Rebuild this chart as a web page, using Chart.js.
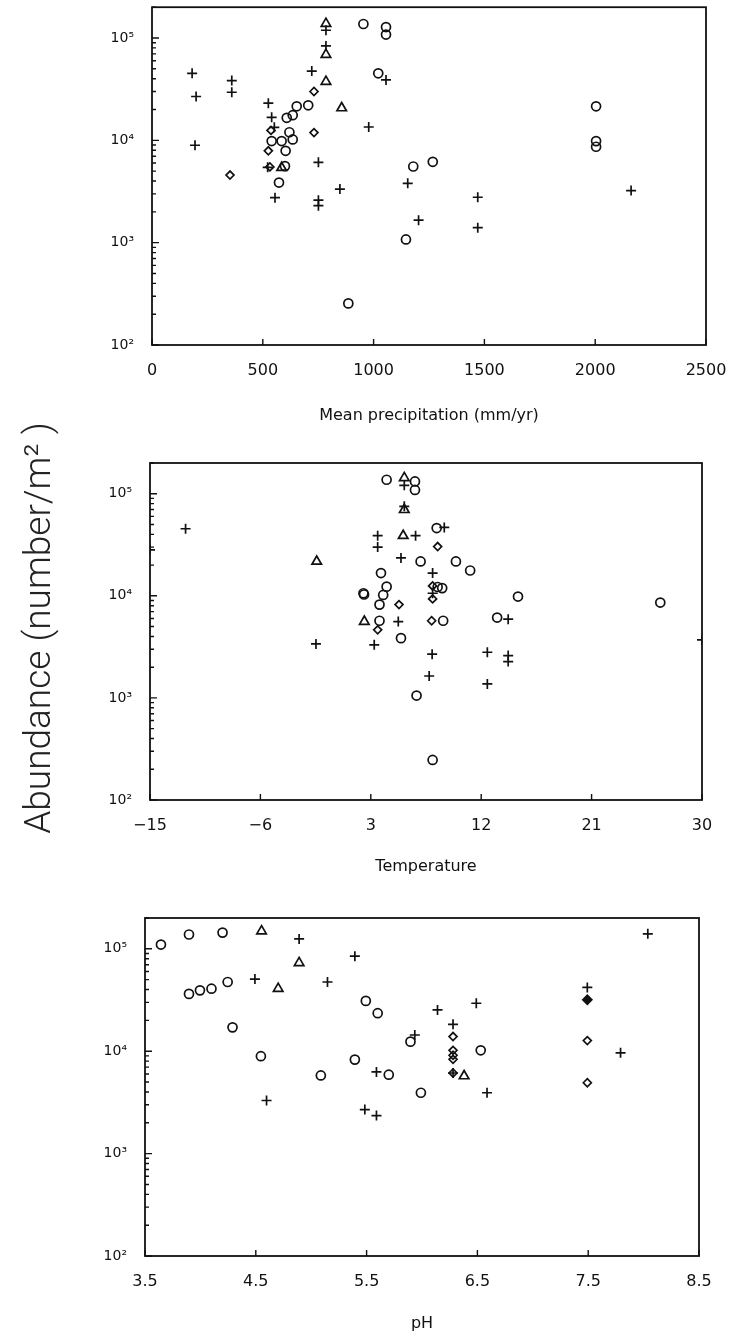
<!DOCTYPE html>
<html>
<head>
<meta charset="utf-8">
<script src="https://cdn.jsdelivr.net/npm/chart.js@4"></script>
<style>
  body { margin: 0; background: #fff; }
  #wrap { position: relative; width: 733px; height: 1339px; overflow: hidden; }
  canvas { position: absolute; left: 0; }
  #ytitle {
    position: absolute; left: -222px; top: 605px; width: 520px; height: 46px;
    line-height: 46px; text-align: center; transform: rotate(-90deg);
    font-family: Roboto, "DejaVu Sans", sans-serif; font-weight: 300; font-size: 37px; color: #222;
    white-space: nowrap;
  }
</style>
</head>
<body>
<div id="wrap">
  <canvas id="c1" width="733" height="440" style="top:0px"></canvas>
  <canvas id="c2" width="733" height="440" style="top:450px"></canvas>
  <canvas id="c3" width="733" height="439" style="top:900px"></canvas>
  <div id="ytitle">Abundance (number/m² )</div>
</div>
<script>
// abundance axis (shared by the three panels)
const abundanceTicks = [100, 1000, 10000, 100000];
const abundanceLabels = ["10²", "10³", "10⁴", "10⁵"];

// precipitation panel
const precipTicks = [0, 500, 1000, 1500, 2000, 2500];
const precipCircles = [
  [954, 137000], [1056, 128000], [1056, 108000], [1021, 45200], [705, 22000],
  [653, 21500], [635, 17600], [608, 16600], [620, 12000], [540, 9840],
  [585, 9840], [635, 10200], [603, 7900], [600, 5600], [573, 3870],
  [1146, 1076], [886, 255], [1179, 5550], [1267, 6170], [2004, 21500],
  [2004, 9830], [2004, 8660]
];
const precipCrosses = [
  [181, 45200], [199, 26800], [194, 8950], [360, 38400], [360, 29500],
  [525, 23100], [540, 16800], [552, 13400], [522, 5450], [555, 2750],
  [721, 47500], [785, 119000], [785, 83700], [751, 6100], [751, 2600],
  [751, 2300], [848, 3340], [978, 13500], [1056, 38900], [1154, 3800],
  [1203, 1660], [1470, 2780], [1470, 1400], [2162, 3230]
];
const precipDiamonds = [
  [352, 4580], [731, 30000], [731, 11900], [537, 12500], [525, 7900], [532, 5500]
];
const precipTriangles = [
  [785, 138000], [785, 68900], [785, 37500], [856, 20700], [585, 5400]
];

// temperature panel
const tempTicks = [-15, -6, 3, 12, 21, 30];
const tempCircles = [
  [4.29, 137000], [6.6, 132000], [6.6, 109000], [8.37, 46100], [7.06, 21700],
  [9.94, 21700], [11.1, 17700], [3.83, 16700], [4.29, 12300], [4.01, 10200],
  [2.4, 10600], [2.45, 10300], [3.71, 8200], [3.71, 5700], [5.46, 3850],
  [6.73, 1055], [8.45, 12200], [8.82, 11900], [8.9, 5700], [15.0, 9840],
  [13.3, 6120], [26.6, 8590], [8.04, 247]
];
const tempCrosses = [
  [-12.1, 45400], [-15, 28200], [-1.47, 3380], [3.56, 38800], [3.56, 30000],
  [3.28, 3310], [5.46, 23500], [5.24, 5600], [5.73, 121000], [5.73, 75200],
  [6.65, 38800], [8.99, 46800], [8.04, 16700], [8.04, 10600], [8.0, 2680],
  [7.76, 1640], [12.5, 2800], [12.5, 1370], [14.2, 5900], [14.2, 2600],
  [14.2, 2270], [30, 3700]
];
const tempDiamonds = [
  [5.3, 8200], [3.56, 4640], [8.45, 30400], [8.04, 12500], [8.04, 9330], [7.96, 5700]
];
const tempTriangles = [
  [5.73, 143000], [5.73, 69700], [5.64, 38800], [-1.41, 21700], [2.47, 5600]
];

// pH panel
const phTicks = [3.5, 4.5, 5.5, 6.5, 7.5, 8.5];
const phCircles = [
  [3.644, 110000], [3.897, 138000], [4.2, 144000], [3.897, 36300], [3.996, 39300],
  [4.1, 40800], [4.246, 47400], [4.29, 17100], [4.546, 8940], [5.087, 5800],
  [5.394, 8280], [5.493, 31000], [5.6, 23500], [5.7, 5900], [5.896, 12400],
  [5.99, 3930], [6.53, 10200]
];
const phCrosses = [
  [4.891, 125000], [5.394, 84700], [4.492, 50700], [5.147, 47400], [4.597, 3300],
  [5.484, 2690], [5.589, 2350], [5.589, 6270], [5.935, 14400], [6.14, 25300],
  [6.49, 29400], [6.28, 18300], [6.587, 3930], [7.492, 42000], [7.792, 9640],
  [8.038, 140000], [6.28, 6130]
];
const phDiamonds = [
  [6.28, 13900], [6.28, 10200], [6.28, 9130], [6.28, 8330], [6.28, 6130],
  [7.492, 12700], [7.492, 4920]
];
const phTriangles = [
  [4.552, 149000], [4.891, 72800], [4.702, 40800], [6.38, 5730]
];
const phFilledDiamonds = [[7.492, 31800]];

const INK = "#111";
const FONT = "'DejaVu Sans', sans-serif";

function points(list, style, radius, filled) {
  return {
    data: list.map(([x, y]) => ({ x, y })),
    pointStyle: style,
    pointRadius: radius,
    pointBorderWidth: 1.7,
    borderColor: INK,
    backgroundColor: filled ? INK : "rgba(0,0,0,0)",
    showLine: false,
  };
}

// box around the plot plus short inward tick marks
const frame = {
  id: "frame",
  afterDatasetsDraw(chart) {
    const { ctx, chartArea: a, scales: { x, y } } = chart;
    ctx.save();
    ctx.strokeStyle = INK;
    ctx.lineWidth = 1.8;
    ctx.strokeRect(a.left, a.top, a.right - a.left, a.bottom - a.top);
    ctx.lineWidth = 1.4;
    ctx.beginPath();
    x.ticks.forEach(t => {
      const px = x.getPixelForValue(t.value);
      ctx.moveTo(px, a.bottom);
      ctx.lineTo(px, a.bottom - 6);
    });
    for (let d = 2; d <= 5; d++) {
      for (let m = 1; m <= 9; m++) {
        const v = m * Math.pow(10, d);
        if (v > y.max) break;
        const py = y.getPixelForValue(v);
        ctx.moveTo(a.left, py);
        ctx.lineTo(a.left + (m === 1 ? 7 : 4), py);
      }
    }
    ctx.stroke();
    ctx.restore();
  }
};

// tick text: plain numbers, real minus sign
const fmt = v => (v < 0 ? "\u2212" + Math.abs(v) : String(v));

function panel(id, g, xTicks, title, datasets) {
  new Chart(document.getElementById(id), {
    type: "scatter",
    data: { datasets },
    options: {
      responsive: false,
      animation: false,
      events: [],
      layout: { padding: { top: g.top, right: g.right, left: 0, bottom: 0 } },
      plugins: { legend: { display: false }, tooltip: { enabled: false } },
      scales: {
        x: {
          type: "linear",
          min: xTicks[0],
          max: xTicks[xTicks.length - 1],
          grid: { display: false },
          border: { display: false },
          afterBuildTicks: s => { s.ticks = xTicks.map(v => ({ value: v })); },
          afterFit: s => { s.height = g.xh; s.paddingLeft = 0; s.paddingRight = 0; },
          ticks: {
            color: INK, font: { family: FONT, size: 16 }, padding: 8, maxRotation: 0,
            callback: v => fmt(v)
          },
          title: {
            display: true, text: title, color: INK,
            font: { family: FONT, size: 16 },
            padding: { top: 0, bottom: g.tb }
          }
        },
        y: {
          type: "logarithmic",
          min: 100,
          max: 200000,
          grid: { display: false },
          border: { display: false },
          afterBuildTicks: s => { s.ticks = abundanceTicks.map(v => ({ value: v })); },
          afterFit: s => { s.width = g.yw; s.paddingTop = 0; s.paddingBottom = 0; },
          ticks: {
            color: INK, font: { family: FONT, size: 14 }, padding: 10,
            callback: v => abundanceLabels[abundanceTicks.indexOf(v)]
          }
        }
      }
    },
    plugins: [frame]
  });
}

panel("c1", { top: 5, right: 27, yw: 152, xh: 95, tb: 15 }, precipTicks,
  "Mean precipitation (mm/yr)", [
    points(precipCircles, "circle", 4.5),
    points(precipCrosses, "cross", 5),
    points(precipDiamonds, "rectRot", 4),
    points(precipTriangles, "triangle", 5.5)
  ]);

panel("c2", { top: 13, right: 31, yw: 150, xh: 90, tb: 14 }, tempTicks,
  "Temperature", [
    points(tempCircles, "circle", 4.5),
    points(tempCrosses, "cross", 5),
    points(tempDiamonds, "rectRot", 4),
    points(tempTriangles, "triangle", 5.5)
  ]);

panel("c3", { top: 18, right: 34, yw: 145, xh: 83, tb: 6 }, phTicks,
  "pH", [
    points(phCircles, "circle", 4.5),
    points(phCrosses, "cross", 5),
    points(phDiamonds, "rectRot", 4),
    points(phTriangles, "triangle", 5.5),
    points(phFilledDiamonds, "rectRot", 4.5, true)
  ]);
</script>
</body>
</html>
